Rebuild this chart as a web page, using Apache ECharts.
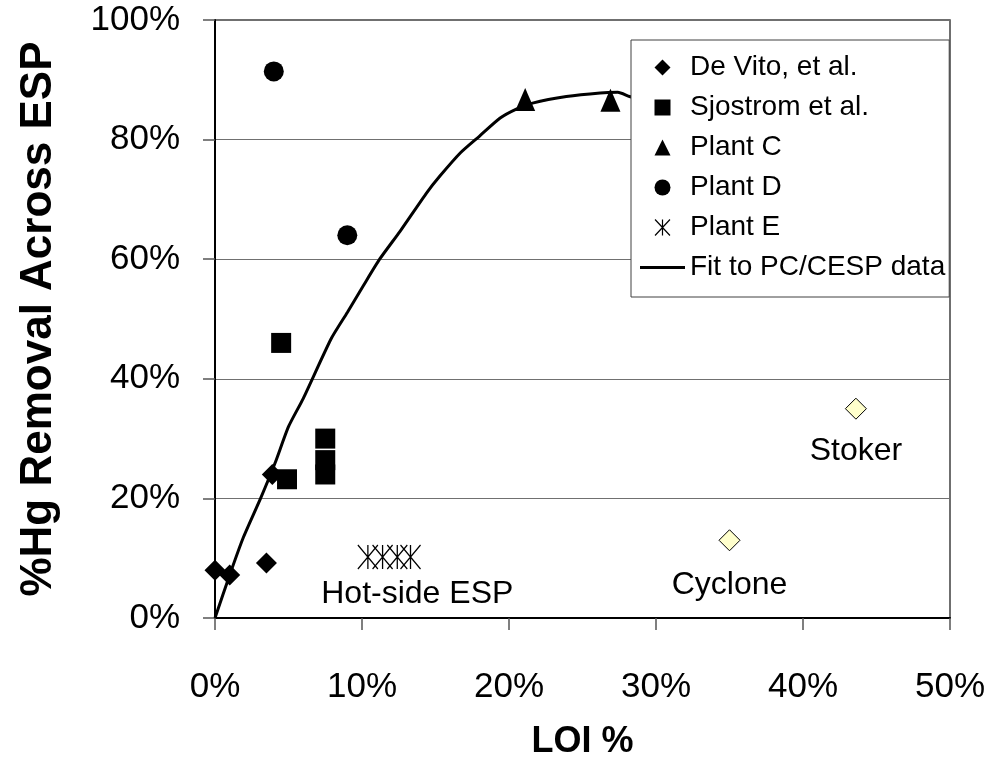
<!DOCTYPE html>
<html>
<head>
<meta charset="utf-8">
<script src="https://cdn.jsdelivr.net/npm/echarts@6/dist/echarts.min.js"></script>
<style>
  html, body { margin: 0; padding: 0; background: #fff; }
  #chart { width: 994px; height: 765px; }
</style>
</head>
<body>
<div id="chart"></div>
<script>
// LOI (%) vs. %Hg removal across ESP
const deVito = [[0.0, 8.0], [1.0, 7.2], [3.5, 9.2], [3.9, 24.0]];
const sjostrom = [[4.5, 46.0], [4.9, 23.2], [7.5, 30.0], [7.5, 26.4], [7.5, 24.0]];
const plantC = [[21.1, 86.7], [26.9, 86.6]];
const plantD = [[4.0, 91.4], [9.0, 64.0]];
const plantE = [[10.4, 10.2], [11.4, 10.2], [12.4, 10.2], [13.3, 10.2]];
const stoker = [[43.6, 35.0]];
const cyclone = [[35.0, 13.0]];
const fitCurve = [
  [0.0, 0.0], [1.0, 7.2], [1.9, 13.3], [3.1, 20.0], [4.1, 26.0], [5.0, 32.0],
  [6.0, 36.7], [7.9, 46.7], [9.0, 51.1], [10.1, 55.6], [11.2, 60.0], [12.6, 64.7],
  [14.4, 71.1], [15.3, 73.9], [16.7, 77.8], [18.0, 80.6], [19.4, 83.6], [20.5, 85.1],
  [21.6, 86.1], [23.9, 87.2], [26.2, 87.8], [27.4, 87.9], [28.2, 87.2], [29.5, 86.3]
];
const xTicks = { min: 0, max: 50, step: 10 };
const yTicks = { min: 0, max: 100, step: 20 };
const seriesNames = ['De Vito, et al.', 'Sjostrom et al.', 'Plant C', 'Plant D', 'Plant E', 'Fit to PC/CESP data'];

const FONT = '"Liberation Sans", Arial, sans-serif';
const chart = echarts.init(document.getElementById('chart'), null, { renderer: 'canvas' });

const blackMark = { color: '#000', opacity: 1 };
const starPath = 'path://M0,0L20,24M20,0L0,24M10,0L10,24';
const annotation = (text, extra) => Object.assign({
  show: true, formatter: text, position: 'bottom', distance: 16,
  fontFamily: FONT, fontSize: 32, color: '#000', opacity: 1
}, extra || {});

// Legend icons as paths so they keep their proportions inside the icon box
const legendIcons = {
  'De Vito, et al.': 'path://M5,0L10,5L5,10L0,5Z',
  'Sjostrom et al.': 'path://M0,0L10,0L10,10L0,10Z',
  'Plant C': 'path://M5,0L10,10L0,10Z',
  'Plant D': 'path://M0,5A5,5,0,1,1,10,5A5,5,0,1,1,0,5Z',
  'Plant E': 'path://M0,0L14,15M14,0L0,15M7,0L7,15',
  'Fit to PC/CESP data': 'path://M0,0L45,0L45,3L0,3Z'
};
const legendData = seriesNames.map(name => ({
  name,
  icon: legendIcons[name],
  itemStyle: name === 'Plant E'
    ? { color: 'transparent', borderColor: '#000', borderWidth: 1.2 }
    : { color: '#000', borderWidth: 0 }
}));

chart.setOption({
  backgroundColor: '#fff',
  animation: false,
  grid: {
    left: 215, right: 44, top: 20, bottom: 145,
    show: true, borderColor: '#404040', borderWidth: 1.5, backgroundColor: 'transparent'
  },
  legend: {
    data: legendData,
    orient: 'vertical',
    left: 631, top: 40,
    padding: [12, 4, 14, 9],
    itemGap: 9,
    itemWidth: 45, itemHeight: 16,
    symbolKeepAspect: true,
    backgroundColor: '#fff',
    borderColor: '#404040', borderWidth: 1,
    borderRadius: 0,
    textStyle: { fontFamily: FONT, fontSize: 28, color: '#000', lineHeight: 31 },
    selectedMode: false
  },
  xAxis: {
    type: 'value', min: xTicks.min, max: xTicks.max, interval: xTicks.step,
    name: 'LOI %', nameLocation: 'middle', nameGap: 106,
    nameTextStyle: { fontFamily: FONT, fontSize: 36, fontWeight: 'bold', color: '#000' },
    axisLine: { lineStyle: { color: '#000', width: 2 } },
    axisTick: { show: true, length: 12, lineStyle: { color: '#555', width: 1.5 } },
    axisLabel: { formatter: '{value}%', margin: 52, fontFamily: FONT, fontSize: 35, color: '#000' },
    splitLine: { show: false }
  },
  yAxis: {
    type: 'value', min: yTicks.min, max: yTicks.max, interval: yTicks.step,
    name: '%Hg Removal Across ESP', nameLocation: 'middle', nameGap: 154,
    nameTextStyle: { fontFamily: FONT, fontSize: 44, fontWeight: 'bold', color: '#000' },
    axisLine: { lineStyle: { color: '#000', width: 2 } },
    axisTick: { show: true, length: 12, lineStyle: { color: '#555', width: 1.5 } },
    axisLabel: { formatter: '{value}%', margin: 35, fontFamily: FONT, fontSize: 35, color: '#000' },
    splitLine: { show: true, lineStyle: { color: '#707070', width: 1.2 } }
  },
  series: [
    {
      name: 'Fit to PC/CESP data', type: 'line', data: fitCurve,
      showSymbol: false, symbol: 'none', smooth: 0.2,
      lineStyle: { color: '#000', width: 3 }, itemStyle: blackMark, z: 2
    },
    {
      name: 'De Vito, et al.', type: 'scatter', data: deVito,
      symbol: 'diamond', symbolSize: 21, itemStyle: blackMark, z: 3
    },
    {
      name: 'Sjostrom et al.', type: 'scatter', data: sjostrom,
      symbol: 'rect', symbolSize: 20, itemStyle: blackMark, z: 3
    },
    {
      name: 'Plant C', type: 'scatter', data: plantC,
      symbol: 'triangle', symbolSize: [20, 23], itemStyle: blackMark, z: 3
    },
    {
      name: 'Plant D', type: 'scatter', data: plantD,
      symbol: 'circle', symbolSize: 20, itemStyle: blackMark, z: 3
    },
    {
      name: 'Plant E', type: 'scatter',
      data: plantE.map((p, i) => i === 2
        ? { value: p, label: annotation('Hot-side ESP', { distance: 8, offset: [20, 0] }) }
        : p),
      symbol: starPath, symbolSize: [20, 24],
      itemStyle: { color: 'transparent', borderColor: '#000', borderWidth: 1.4, opacity: 1 }, z: 3
    },
    {
      name: 'Stoker', type: 'scatter',
      data: stoker.map(p => ({ value: p, label: annotation('Stoker', { distance: 15 }) })),
      symbol: 'diamond', symbolSize: 21,
      itemStyle: { color: '#FFFFCC', borderColor: '#000', borderWidth: 1, opacity: 1 }, z: 3
    },
    {
      name: 'Cyclone', type: 'scatter',
      data: cyclone.map(p => ({ value: p, label: annotation('Cyclone', { distance: 18 }) })),
      symbol: 'diamond', symbolSize: 21,
      itemStyle: { color: '#FFFFCC', borderColor: '#000', borderWidth: 1, opacity: 1 }, z: 3
    }
  ]
});
</script>
</body>
</html>
